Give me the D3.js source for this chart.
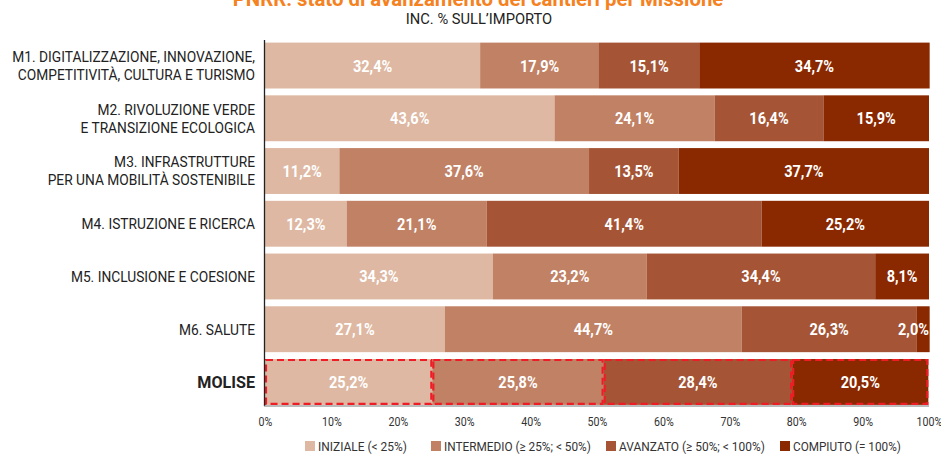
<!DOCTYPE html>
<html>
<head>
<meta charset="utf-8">
<script src="https://cdn.jsdelivr.net/npm/d3@7"></script>
<style>
  html, body { margin: 0; padding: 0; background: #fff; }
  svg { display: block; }
  text { font-family: "Roboto", "Noto Sans", sans-serif; }
</style>
</head>
<body>
<svg id="chart" width="941" height="455"></svg>
<script>
// Missioni del PNRR + regione di confronto
const categories = [
  ["M1. DIGITALIZZAZIONE, INNOVAZIONE,", "COMPETITIVITÀ, CULTURA E TURISMO"],
  ["M2. RIVOLUZIONE VERDE", "E TRANSIZIONE ECOLOGICA"],
  ["M3. INFRASTRUTTURE", "PER UNA MOBILITÀ SOSTENIBILE"],
  ["M4. ISTRUZIONE E RICERCA"],
  ["M5. INCLUSIONE E COESIONE"],
  ["M6. SALUTE"],
  ["MOLISE"]
];
const seriesNames = ["INIZIALE (< 25%)", "INTERMEDIO (≥ 25%; < 50%)", "AVANZATO (≥ 50%; < 100%)", "COMPIUTO (= 100%)"];
const iniziale   = [32.4, 43.6, 11.2, 12.3, 34.3, 27.1, 25.2];
const intermedio = [17.9, 24.1, 37.6, 21.1, 23.2, 44.7, 25.8];
const avanzato   = [15.1, 16.4, 13.5, 41.4, 34.4, 26.3, 28.4];
const compiuto   = [34.7, 15.9, 37.7, 25.2,  8.1,  2.0, 20.5];
const xTicks = [0, 10, 20, 30, 40, 50, 60, 70, 80, 90, 100];
const colors = ["#deb8a2", "#c18164", "#a55535", "#8a2800"];

const seriesValues = [iniziale, intermedio, avanzato, compiuto];
const rows = categories.map((c, i) => {
  const r = { key: i };
  seriesValues.forEach((s, j) => r["s" + j] = s[i]);
  return r;
});
const keys = seriesValues.map((_, j) => "s" + j);
const stacked = d3.stack().keys(keys)(rows);

const svg = d3.select("#chart");
const plotLeft = 265, plotRight = 929;

const x = d3.scaleLinear().domain([0, 100]).range([plotLeft, plotRight]);
const y = d3.scaleBand().domain(d3.range(categories.length))
  .range([40.5, 407]).paddingInner(0.13).paddingOuter(0.04);

const fmt = v => d3.format(".1f")(v).replace(".", ",") + "%";

// Testo compresso orizzontalmente (carattere condensato)
function narrowText(parent, px, py, sx) {
  return parent.append("text")
    .attr("transform", `translate(${px},${py}) scale(${sx},1)`);
}

// Titolo e sottotitolo
narrowText(svg, 478, 6, 0.97).attr("text-anchor", "middle")
  .attr("fill", "#f5821f").attr("font-size", 21).attr("font-weight", "bold")
  .text("PNRR: stato di avanzamento dei cantieri per Missione");
narrowText(svg, 479, 24, 0.98).attr("text-anchor", "middle")
  .attr("fill", "#222").attr("font-size", 15)
  .text("INC. % SULL’IMPORTO");

// Barre impilate
const layers = svg.append("g").selectAll("g").data(stacked).join("g")
  .attr("fill", (d, i) => colors[i]);
layers.selectAll("rect").data(d => d).join("rect")
  .attr("x", d => x(d[0]))
  .attr("y", (d, i) => y(i))
  .attr("width", d => x(d[1]) - x(d[0]))
  .attr("height", y.bandwidth());

// Contorno tratteggiato per i segmenti della regione
const last = categories.length - 1;
svg.append("g").selectAll("rect").data(stacked.map(s => s[last])).join("rect")
  .attr("x", d => x(d[0]) + 1)
  .attr("y", y(last) + 1)
  .attr("width", d => Math.min(x(d[1]), plotRight) - x(d[0]) - 2)
  .attr("height", y.bandwidth() - 2)
  .attr("fill", "none").attr("stroke", "#ee1c25").attr("stroke-width", 2.2)
  .attr("stroke-dasharray", "7,4");

// Etichette dei valori
const labels = svg.append("g");
const labelScale = 0.88;
stacked.forEach((s, j) => {
  s.forEach((d, i) => {
    const v = seriesValues[j][i];
    const cy = y(i) + y.bandwidth() / 2;
    const t = labels.append("text")
      .attr("text-anchor", "middle").attr("dy", "0.36em")
      .attr("fill", "#fff").attr("font-size", 16.5).attr("font-weight", "bold")
      .text(fmt(v));
    let cx = (x(d[0]) + x(d[1])) / 2;
    const w = t.node().getComputedTextLength() * labelScale;
    if (cx + w / 2 > plotRight) cx = plotRight - w / 2;
    t.attr("transform", `translate(${cx},${cy}) scale(${labelScale},1)`);
  });
});

// Asse delle categorie
svg.append("line").attr("x1", plotLeft - 0.5).attr("x2", plotLeft - 0.5)
  .attr("y1", 40).attr("y2", 406).attr("stroke", "#222").attr("stroke-width", 1.3);
const catG = svg.append("g");
categories.forEach((lines, i) => {
  const cy = y(i) + y.bandwidth() / 2;
  const bold = i === last;
  const lh = 18;
  const t = narrowText(catG, 255, cy, bold ? 0.95 : 0.93).attr("text-anchor", "end")
    .attr("fill", "#222").attr("font-size", bold ? 17 : 14.8)
    .attr("font-weight", bold ? "bold" : "normal");
  lines.forEach((ln, k) => {
    t.append("tspan").attr("x", 0)
      .attr("y", (k - (lines.length - 1) / 2) * lh)
      .attr("dy", "0.36em").text(ln);
  });
});

// Asse delle percentuali
svg.append("line").attr("x1", plotLeft - 1).attr("x2", plotRight)
  .attr("y1", 406).attr("y2", 406).attr("stroke", "#777").attr("stroke-width", 1);
const xAxis = d3.axisBottom(x).tickValues(xTicks).tickFormat(d => d + "%").tickSize(0).tickPadding(11);
const xg = svg.append("g").attr("transform", "translate(0,406)").call(xAxis);
xg.select(".domain").remove();
xg.selectAll("text").attr("font-size", 13).attr("fill", "#333")
  .attr("font-family", "Roboto, sans-serif")
  .attr("transform", "scale(0.82,1)");

// Legenda
const legendX = [305, 431, 606, 780];
const legendW = [89, 147, 146, 108];
const lg = svg.append("g");
seriesNames.forEach((n, i) => {
  lg.append("rect").attr("x", legendX[i]).attr("y", 441).attr("width", 10).attr("height", 10)
    .attr("fill", colors[i]);
  const t = lg.append("text").attr("x", legendX[i] + 13).attr("y", 446).attr("dy", "0.36em")
    .attr("fill", "#333").attr("font-size", 13.5).text(n);
  const w = t.node().getComputedTextLength();
  t.attr("transform", `translate(${legendX[i] + 13},0) scale(${legendW[i] / w},1) translate(${-(legendX[i] + 13)},0)`);
});
</script>
</body>
</html>
